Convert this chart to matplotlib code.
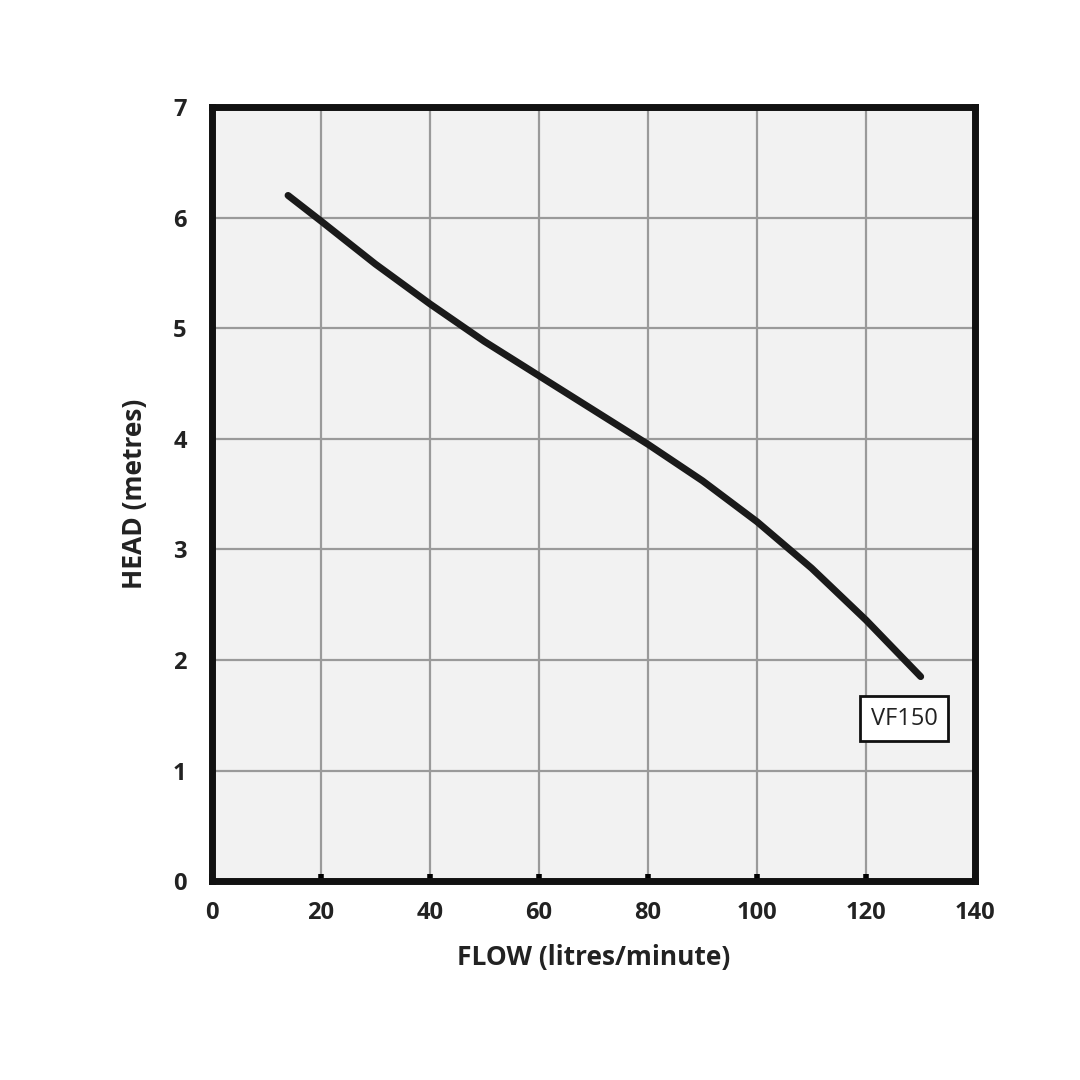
import matplotlib.pyplot as plt

flow = [14, 20, 30, 40, 50, 60, 70, 80, 90, 100, 110, 120, 130]
head = [6.2, 5.97, 5.58, 5.22, 4.88, 4.57, 4.26, 3.95, 3.62, 3.25, 2.83, 2.36, 1.85]
x_ticks = [0, 20, 40, 60, 80, 100, 120, 140]
y_ticks = [0, 1, 2, 3, 4, 5, 6, 7]

plt.rcParams['font.family'] = ['Open Sans', 'DejaVu Sans']

fig = plt.figure(figsize=(10.8, 10.8), dpi=100)
ax = fig.add_axes([0.196, 0.184, 0.707, 0.717])
ax.set_facecolor('#f2f2f2')

ax.plot(flow, head, color='#1a1a1a', linewidth=5, solid_capstyle='round')

ax.set_xlim(0, 140)
ax.set_ylim(0, 7)
ax.set_xticks(x_ticks)
ax.set_yticks(y_ticks)
ax.grid(True, color='#9a9a9a', linewidth=1.6)
ax.set_axisbelow(True)
for s in ax.spines.values():
    s.set_linewidth(5)
    s.set_color('#111111')
ax.tick_params(axis='x', length=5, width=4, direction='in', pad=14, labelsize=17)
ax.tick_params(axis='y', length=0, pad=18, labelsize=17)
for lab in ax.get_xticklabels() + ax.get_yticklabels():
    lab.set_fontweight('bold')
    lab.set_color('#222222')

ax.set_xlabel('FLOW (litres/minute)', fontsize=19, fontweight='bold', color='#222222', labelpad=14)
ax.set_ylabel('HEAD (metres)', fontsize=19, fontweight='bold', color='#222222', labelpad=18)

ax.text(127, 1.47, 'VF150', fontsize=17, ha='center', va='center', color='#222222',
        bbox=dict(boxstyle='square,pad=0.45', facecolor='white', edgecolor='#111111', linewidth=2))

fig.savefig('out.png', dpi=100, facecolor='white')
